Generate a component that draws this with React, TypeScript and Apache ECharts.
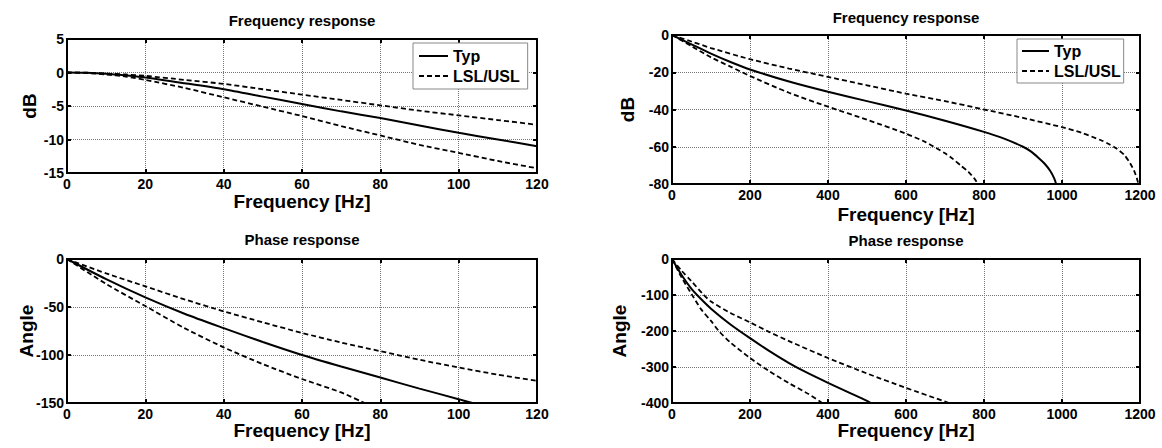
import React, { useEffect, useRef } from "react";
import * as echarts from "echarts";

// Panel 1: magnitude, 0-120 Hz
const p1Freq = [0, 5, 10, 15, 20, 30, 40, 50, 60, 70, 80, 90, 100, 110, 120];
const p1Typ = [0, -0.05, -0.2, -0.45, -0.75, -1.6, -2.5, -3.6, -4.7, -5.8, -6.8, -7.9, -9.0, -10.0, -11.0];
const p1Usl = [0, -0.03, -0.15, -0.3, -0.5, -1.1, -1.7, -2.5, -3.3, -4.1, -4.9, -5.7, -6.4, -7.1, -7.8];
const p1Lsl = [0, -0.07, -0.3, -0.6, -1.1, -2.3, -3.7, -5.1, -6.5, -8.0, -9.4, -10.8, -12.0, -13.2, -14.3];

// Panel 2: magnitude, 0-1200 Hz
const p2TypFreq = [0, 50, 100, 150, 200, 300, 400, 500, 600, 700, 800, 850, 900, 920, 940, 955, 970, 980, 985];
const p2Typ = [0, -5, -10, -14.5, -18.5, -25, -30.5, -35.5, -40.5, -46, -52, -55.5, -60, -62.5, -66, -69, -73, -77, -80];
const p2UslFreq = [0, 50, 100, 200, 300, 400, 500, 600, 700, 800, 900, 1000, 1050, 1100, 1120, 1140, 1160, 1175, 1185, 1192, 1196];
const p2Usl = [0, -3.5, -7, -13, -18, -22.5, -27, -31.5, -35.5, -40, -44.5, -49.5, -52.5, -56.5, -58.5, -61, -64.5, -69, -73, -77, -80];
const p2LslFreq = [0, 50, 100, 150, 200, 300, 400, 500, 600, 650, 700, 720, 740, 760, 775, 785];
const p2Lsl = [0, -6, -12, -17, -22, -31, -38.5, -45.5, -53, -57.5, -63.5, -66.5, -70, -73.5, -77, -80];

// Panel 3: phase, 0-120 Hz
const p3TypFreq = [0, 10, 20, 30, 40, 50, 60, 70, 80, 90, 100, 103.5];
const p3Typ = [0, -21, -40, -57, -72, -86.5, -100, -112, -123.5, -135, -146, -150];
const p3UslFreq = [0, 10, 20, 30, 40, 50, 60, 70, 80, 90, 100, 110, 120];
const p3Usl = [0, -15, -28.5, -42, -54.5, -66, -77, -87, -96, -105, -113, -120.5, -127];
const p3LslFreq = [0, 10, 20, 30, 40, 50, 60, 70, 76];
const p3Lsl = [0, -26, -49, -72, -92, -109.5, -125, -139, -150];

// Panel 4: phase, 0-1200 Hz
const p4TypFreq = [0, 25, 50, 75, 100, 150, 200, 250, 300, 350, 400, 450, 500, 510];
const p4Typ = [0, -45, -83, -112, -138, -182, -220, -256, -289, -318, -344, -369, -394, -400];
const p4UslFreq = [0, 25, 50, 80, 100, 150, 200, 250, 300, 400, 500, 600, 700, 710];
const p4Usl = [0, -33, -62, -98, -118, -150, -176, -203, -228, -275, -318, -358, -396, -400];
const p4LslFreq = [0, 25, 50, 75, 100, 120, 150, 200, 250, 300, 350, 385];
const p4Lsl = [0, -52, -97, -140, -172, -200, -232, -275, -312, -345, -375, -400];

const titles = ["Frequency response", "Frequency response", "Phase response", "Phase response"];
const yNames = ["dB", "dB", "Angle", "Angle"];
const xName = "Frequency [Hz]";
const legendNames = ["Typ", "LSL/USL"];

const FONT = "'Liberation Sans', Arial, sans-serif";

const pairs = (xs: number[], ys: number[]) => xs.map((x, i) => [x, ys[i]]);

export default function App() {
  const ref = useRef<HTMLDivElement>(null);
  useEffect(() => {
    document.body.style.margin = "0";
    const chart = echarts.init(ref.current!, null, { renderer: "svg" });

    const grids = [
      { left: 67, top: 39, width: 470, height: 134 },
      { left: 672, top: 35, width: 468, height: 149 },
      { left: 67, top: 259, width: 470, height: 144 },
      { left: 672, top: 259, width: 468, height: 144 },
    ];
    const xr = [
      { min: 0, max: 120, interval: 20 },
      { min: 0, max: 1200, interval: 200 },
      { min: 0, max: 120, interval: 20 },
      { min: 0, max: 1200, interval: 200 },
    ];
    const yr = [
      { min: -15, max: 5, interval: 5 },
      { min: -80, max: 0, interval: 20 },
      { min: -150, max: 0, interval: 50 },
      { min: -400, max: 0, interval: 100 },
    ];
    const xNameGaps = [19, 21, 18, 18];
    const yNameGaps = [28, 35, 31, 43];

    const labelStyle = { color: "#000", fontFamily: FONT, fontWeight: "bold" as const, fontSize: 14 };
    const nameStyle = { color: "#000", fontFamily: FONT, fontWeight: "bold" as const, fontSize: 19 };
    const splitLine = { show: true, lineStyle: { type: "dotted" as const, color: "#777", width: 1 } };
    const tick = { show: true, inside: true, length: 4, lineStyle: { color: "#000", width: 2 } };
    const fmt = (v: number) => String(v);

    const xAxes: any[] = [];
    const yAxes: any[] = [];
    for (let i = 0; i < 4; i++) {
      xAxes.push({
        type: "value", gridIndex: i, ...xr[i], position: "bottom",
        name: xName, nameLocation: "middle", nameGap: xNameGaps[i], nameTextStyle: nameStyle,
        nameMoveOverlap: false,
        axisLine: { show: false, onZero: false }, axisTick: tick,
        axisLabel: { ...labelStyle, margin: 4, formatter: fmt }, splitLine,
      });
      yAxes.push({
        type: "value", gridIndex: i, ...yr[i], position: "left",
        name: yNames[i], nameLocation: "middle", nameGap: yNameGaps[i], nameTextStyle: nameStyle,
        nameMoveOverlap: false,
        axisLine: { show: false, onZero: false }, axisTick: tick,
        axisLabel: { ...labelStyle, margin: 3, formatter: fmt }, splitLine,
      });
    }
    for (let i = 0; i < 4; i++) {
      xAxes.push({
        type: "value", gridIndex: i, ...xr[i], position: "top",
        axisLine: { show: false, onZero: false }, axisTick: tick, axisLabel: { show: false }, splitLine: { show: false },
      });
      yAxes.push({
        type: "value", gridIndex: i, ...yr[i], position: "right",
        axisLine: { show: false, onZero: false }, axisTick: tick, axisLabel: { show: false }, splitLine: { show: false },
      });
    }

    const solid = { color: "#000", width: 2, type: "solid" as const };
    const dashed = { color: "#000", width: 1.8, type: [5, 3] as any };
    const mk = (name: string, idx: number, data: number[][], ls: any) => ({
      type: "line", name, xAxisIndex: idx, yAxisIndex: idx, data,
      showSymbol: false, symbol: "none", smooth: 0.25,
      lineStyle: ls, itemStyle: { color: "#000" }, z: 3,
    });

    const series = [
      mk(legendNames[0], 0, pairs(p1Freq, p1Typ), solid),
      mk(legendNames[1], 0, pairs(p1Freq, p1Usl), dashed),
      mk(legendNames[1], 0, pairs(p1Freq, p1Lsl), dashed),
      mk(legendNames[0], 1, pairs(p2TypFreq, p2Typ), solid),
      mk(legendNames[1], 1, pairs(p2UslFreq, p2Usl), dashed),
      mk(legendNames[1], 1, pairs(p2LslFreq, p2Lsl), dashed),
      mk(legendNames[0], 2, pairs(p3TypFreq, p3Typ), solid),
      mk(legendNames[1], 2, pairs(p3UslFreq, p3Usl), dashed),
      mk(legendNames[1], 2, pairs(p3LslFreq, p3Lsl), dashed),
      mk(legendNames[0], 3, pairs(p4TypFreq, p4Typ), solid),
      mk(legendNames[1], 3, pairs(p4UslFreq, p4Usl), dashed),
      mk(legendNames[1], 3, pairs(p4LslFreq, p4Lsl), dashed),
    ];

    const titleTops = [13, 10, 232, 233];
    const title = titles.map((t, i) => ({
      text: t, left: grids[i].left + grids[i].width / 2, top: titleTops[i], textAlign: "center",
      padding: 0,
      textStyle: { color: "#000", fontFamily: FONT, fontWeight: "bold", fontSize: 15 },
    }));

    const legendBase = {
      orient: "vertical", itemGap: 4, itemHeight: 16,
      backgroundColor: "#fff", borderColor: "#888", borderWidth: 1, borderRadius: 0,
      selectedMode: false,
      itemStyle: { opacity: 0 },
      textStyle: { color: "#000", fontFamily: FONT, fontWeight: "bold", fontSize: 16 },
      data: legendNames,
    };

    chart.setOption({
      animation: false,
      backgroundColor: "#fff",
      title,
      grid: grids.map((g) => ({ ...g, show: true, borderColor: "#000", borderWidth: 2, backgroundColor: "transparent", z: 4 })),
      xAxis: xAxes,
      yAxis: yAxes,
      legend: [
        { ...legendBase, left: 413, top: 43, itemWidth: 29, padding: [5, 8, 5, 5] },
        { ...legendBase, left: 1017, top: 39, itemWidth: 27, padding: [4, 3, 4, 4] },
      ],
      series,
    });
    return () => chart.dispose();
  }, []);
  return <div ref={ref} style={{ position: "absolute", left: 0, top: 0, width: 1162, height: 448 }} />;
}
